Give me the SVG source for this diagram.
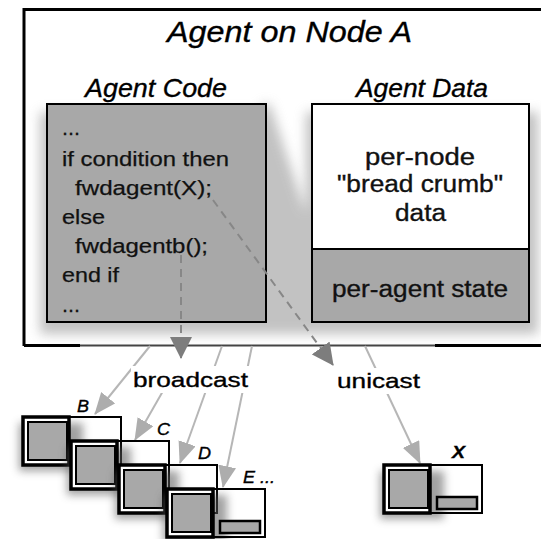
<svg xmlns="http://www.w3.org/2000/svg" xmlns:xlink="http://www.w3.org/1999/xlink" width="541" height="539" viewBox="0 0 541 539">
<defs>
<style>
.t{font-family:"Liberation Sans",Arial,Helvetica,sans-serif;fill:#000;stroke:#000;stroke-width:0.35}
.it{font-style:italic}
.code{font-size:20px;fill:#111;stroke:#111;stroke-width:0.25}
.data{font-size:23px;fill:#111;stroke:#111}
.lbl{font-size:17px;font-style:italic}
.light{stroke:#b6b6b6;stroke-width:2;fill:none}
.dash{stroke:#878787;stroke-width:2;stroke-dasharray:8 6;fill:none}
.gray{fill:#a8a8a8}
</style>
<filter id="blur" x="-30%" y="-30%" width="160%" height="160%"><feGaussianBlur stdDeviation="6"/></filter>
<filter id="blur4" x="-40%" y="-40%" width="180%" height="180%"><feGaussianBlur stdDeviation="4"/></filter>
<marker id="ahL" markerUnits="userSpaceOnUse" viewBox="0 0 22 18" markerWidth="22" markerHeight="18" refX="21" refY="9" orient="auto"><path d="M0,0 L22,9 L0,18 z" fill="#adadad"/></marker>
<marker id="ahD" markerUnits="userSpaceOnUse" viewBox="0 0 22 22" markerWidth="22" markerHeight="22" refX="21" refY="11" orient="auto"><path d="M0,0 L22,11 L0,22 z" fill="#7d7d7d"/></marker>
<clipPath id="inner"><rect x="25" y="10" width="520" height="334"/></clipPath>
<g id="mini">
<rect x="-4" y="6" width="64" height="48" fill="#555" opacity="0.55" filter="url(#blur4)"/>
<rect x="0" y="0" width="46" height="48" fill="#fff" stroke="#000" stroke-width="3.5"/>
<rect x="5" y="5" width="39" height="38" class="gray" stroke="#000" stroke-width="2"/>
<path d="M46,0 H98 V48 H46" fill="none" stroke="#000" stroke-width="2"/>
<rect x="53" y="32" width="40" height="12" class="gray" stroke="#000" stroke-width="2.5"/>
</g>
</defs>
<rect width="541" height="539" fill="#fff"/>

<g id="agent-node-a">
<path d="M24,346 V9.5 H560" fill="none" stroke="#000" stroke-width="3"/>
<path d="M24,345.5 H80" fill="none" stroke="#000" stroke-width="3"/>
<path d="M80,345.5 H435" fill="none" stroke="#444" stroke-width="2"/>
<path d="M435,345.5 H541" fill="none" stroke="#000" stroke-width="3"/>
<g clip-path="url(#inner)">
<g filter="url(#blur)" fill="#9a9a9a" opacity="0.6">
<rect x="40" y="112" width="232" height="222"/>
<polygon points="262,104 270,104 318,250 345,334 262,334"/>
<rect x="306" y="112" width="232" height="222"/>
</g>
</g>
<text class="t it" x="167" y="42" font-size="29" textLength="245" lengthAdjust="spacingAndGlyphs">Agent on Node A</text>
</g>

<g id="agent-code">
<text class="t it" x="85" y="97" font-size="26" textLength="142" lengthAdjust="spacingAndGlyphs">Agent Code</text>
<rect x="47" y="104" width="219" height="218" class="gray" stroke="#000" stroke-width="2"/>
<text class="t code" x="62" y="135" textLength="18" lengthAdjust="spacingAndGlyphs">...</text>
<text class="t code" x="62" y="166" textLength="167" lengthAdjust="spacingAndGlyphs">if condition then</text>
<text class="t code" x="75" y="195" textLength="137" lengthAdjust="spacingAndGlyphs">fwdagent(X);</text>
<text class="t code" x="62" y="224" textLength="43" lengthAdjust="spacingAndGlyphs">else</text>
<text class="t code" x="75" y="253" textLength="133" lengthAdjust="spacingAndGlyphs">fwdagentb();</text>
<text class="t code" x="62" y="282" textLength="57" lengthAdjust="spacingAndGlyphs">end if</text>
<text class="t code" x="62" y="312" textLength="18" lengthAdjust="spacingAndGlyphs">...</text>
</g>

<g id="agent-data">
<text class="t it" x="356" y="97" font-size="26" textLength="132" lengthAdjust="spacingAndGlyphs">Agent Data</text>
<rect x="312" y="104" width="217" height="145" fill="#fff" stroke="#000" stroke-width="2"/>
<rect x="312" y="249" width="217" height="73" class="gray" stroke="#000" stroke-width="2"/>
<text class="t data" x="365" y="165" textLength="110" lengthAdjust="spacingAndGlyphs">per-node</text>
<text class="t data" x="337" y="192" textLength="166" lengthAdjust="spacingAndGlyphs">"bread crumb"</text>
<text class="t data" x="395" y="221" textLength="51" lengthAdjust="spacingAndGlyphs">data</text>
<text class="t data" x="332" y="297" textLength="176" lengthAdjust="spacingAndGlyphs">per-agent state</text>
</g>

<g id="connectors">
<path class="light" d="M150,346 L95,414" marker-end="url(#ahL)"/>
<path class="light" d="M163,391 L135,440" marker-end="url(#ahL)"/>
<path class="light" d="M222,346 L180,463" marker-end="url(#ahL)"/>
<path class="light" d="M252,346 L223,487" marker-end="url(#ahL)"/>
<path class="light" d="M365,346 L420,463" marker-end="url(#ahL)"/>
<path class="dash" d="M181,255 L181,358" marker-end="url(#ahD)"/>
<path class="dash" d="M213,200 L333,365" marker-end="url(#ahD)"/>
</g>

<g id="label-broadcast">
<rect x="131" y="366" width="118" height="27" fill="#fff"/>
<text class="t" x="133" y="387" font-size="21" textLength="115" lengthAdjust="spacingAndGlyphs">broadcast</text>
</g>
<g id="label-unicast">
<rect x="335" y="368" width="88" height="26" fill="#fff"/>
<text class="t" x="337" y="388" font-size="21" textLength="83" lengthAdjust="spacingAndGlyphs">unicast</text>
</g>

<g id="node-b">
<use xlink:href="#mini" href="#mini" transform="translate(23,417)"/>
<text class="t lbl" x="77" y="412" textLength="12" lengthAdjust="spacingAndGlyphs">B</text>
</g>
<g id="node-c">
<use xlink:href="#mini" href="#mini" transform="translate(71,441)"/>
<text class="t lbl" x="157" y="435" textLength="13" lengthAdjust="spacingAndGlyphs">C</text>
</g>
<g id="node-d">
<use xlink:href="#mini" href="#mini" transform="translate(119,465)"/>
<text class="t lbl" x="198" y="459" textLength="13" lengthAdjust="spacingAndGlyphs">D</text>
</g>
<g id="node-e">
<use xlink:href="#mini" href="#mini" transform="translate(167,489)"/>
<text class="t lbl" x="243" y="483" textLength="32" lengthAdjust="spacingAndGlyphs">E ...</text>
</g>
<g id="node-x">
<use xlink:href="#mini" href="#mini" transform="translate(384,465)"/>
<text class="t lbl" x="452" y="458" font-weight="bold" textLength="13" lengthAdjust="spacingAndGlyphs">X</text>
</g>
</svg>
